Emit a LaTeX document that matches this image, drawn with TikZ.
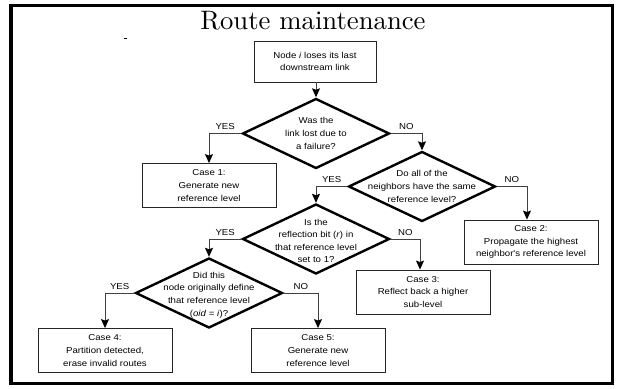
\documentclass[tikz,border=0pt]{standalone}
\usepackage{fontspec}
\newfontfamily\diagfont[FakeStretch=1.12]{Liberation Sans}
\newfontfamily\titlefont{lmroman10-regular.otf}
\usetikzlibrary{shapes.geometric,arrows.meta}

\begin{document}
\begin{tikzpicture}[x=1pt,y=-1pt,
  every node/.style={inner sep=0pt},
  txt/.style={font=\diagfont\fontsize{8.6}{12.6}\selectfont, align=center},
  stepbox/.style={txt, draw=black!85, line width=0.85pt, minimum width=134pt, minimum height=44pt},
  decision/.style={diamond, draw, line width=2.4pt, minimum width=147pt, minimum height=70pt},
  flow/.style={draw=black!75, line width=0.9pt, -{Stealth[length=9pt,width=8pt,inset=1.5pt,color=black]}},
  answer/.style={txt, inner sep=1.5pt, above=1.5pt},
]
\useasboundingbox (0,0) rectangle (618,388);

% slide frame and heading
\draw[line width=3.4pt] (11,5.7) rectangle (612.3,383.5);
\node[anchor=base, font=\titlefont\fontsize{26.7}{30}\selectfont] (title) at (313,29.3) {Route maintenance};
\draw[line width=0.9pt] (123.5,38.3) -- (126.5,38.3);

% start box
\node[stepbox, minimum width=122pt, minimum height=41pt] (start) at (315,61.5)
  {Node \textit{i} loses its last\\downstream link};

% decisions (outline) and their questions
\node[decision] (d1) at (316,133.5) {};
\node[txt] (d1t) at (d1) {Was the\\link lost due to\\a failure?};
\node[decision] (d2) at (422,186.5) {};
\node[txt] (d2t) at (d2) {Do all of the\\neighbors have the same\\reference level?};
\node[decision] (d3) at (316,239) {};
\node[txt] (d3t) at ([yshift=-2pt]d3) {Is the\\reflection bit (\textit{r}) in\\that reference level\\set to 1?};
\node[decision] (d4) at (209,293) {};
\node[txt] (d4t) at ([yshift=-2pt]d4) {Did this\\node originally define\\that reference level\\(\textit{oid} = \textit{i})?};

% outcomes
\node[stepbox] (c1) at (209,185.5) {Case 1:\\Generate new\\reference level};
\node[stepbox] (c2) at (531,242) {Case 2:\\Propagate the highest\\neighbor's reference level};
\node[stepbox] (c3) at (423,292) {Case 3:\\Reflect back a higher\\sub-level};
\node[stepbox] (c4) at (105,350.5) {Case 4:\\Partition detected,\\erase invalid routes};
\node[stepbox] (c5) at (318,350.5) {Case 5:\\Generate new\\reference level};

% connectors
\draw[flow] (start.south -| d1.north) -- (d1.north);
\draw[flow] (d1.west) -| node[answer, pos=0.25] {YES} (c1.north);
\draw[flow] (d1.east) -| node[answer, pos=0.25] {NO} (d2.north);
\draw[flow] (d2.west) -| node[answer, pos=0.25] {YES} (d3.north);
\draw[flow] (d2.east) -| node[answer, pos=0.25] {NO} ([xshift=-4pt]c2.north);
\draw[flow] (d3.west) -| node[answer, pos=0.25] {YES} (d4.north);
\draw[flow] (d3.east) -| node[answer, pos=0.25] {NO} ([xshift=-3pt]c3.north);
\draw[flow] (d4.west) -| node[answer, pos=0.25] {YES} (c4.north);
\draw[flow] (d4.east) -| node[answer, pos=0.25] {NO} (c5.north);
\end{tikzpicture}
\end{document}
